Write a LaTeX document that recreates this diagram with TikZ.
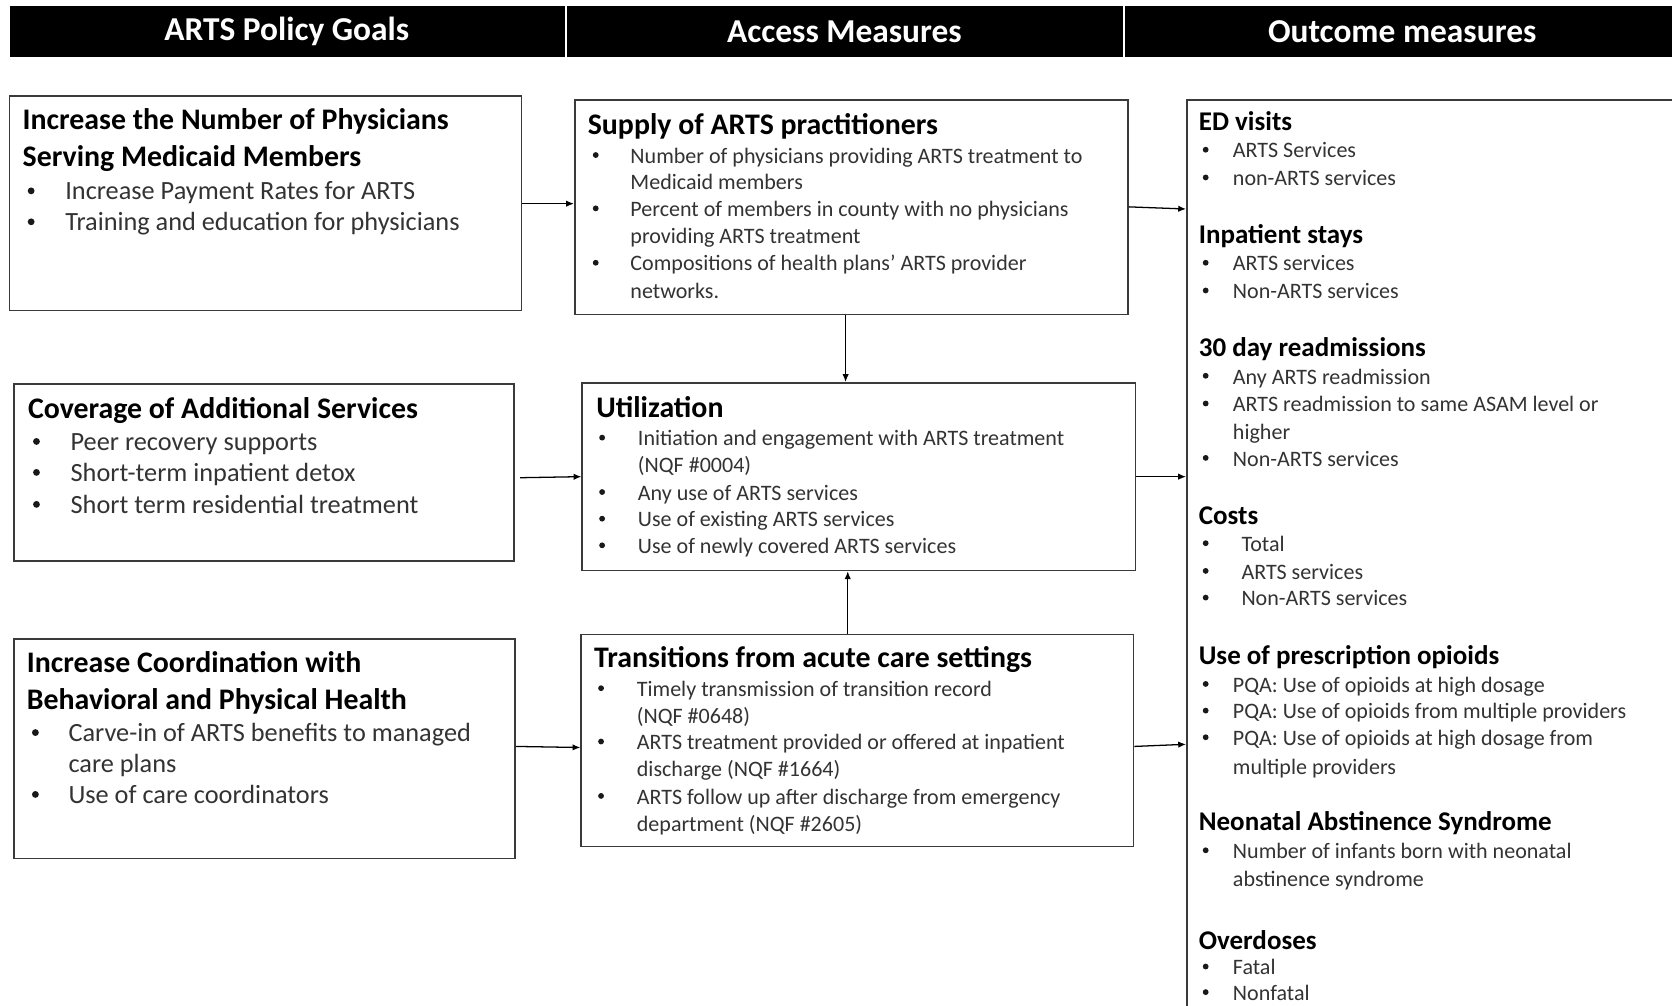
\documentclass[tikz,border=0pt]{standalone}
\usepackage{fontspec}
\setmainfont{Carlito}
\usetikzlibrary{arrows.meta,fit}
\definecolor{bodyc}{HTML}{333333}
\definecolor{boxc}{HTML}{3A3A3A}
\newcommand\tlines[6]{%
  \foreach \yy/\bb/\txt [count=\i] in {#6} {%
    \node[#2] (#1t\i) at (#5,\yy) {\txt};
    \ifnum\bb=1 \node[#3] (#1b\i) at (#4,\yy) {};\fi
  }}
\begin{document}
\begin{tikzpicture}[x=0.75pt,y=-0.75pt,
  hdr/.style={text=white,font=\fontsize{23.5}{28}\selectfont\bfseries,inner sep=0},
  boxn/.style={draw=boxc,line width=1.1pt,inner sep=0},
  arr/.style={draw=black,line width=0.9pt,-{Latex[length=5.5pt,width=4.5pt]}},
  ltitle/.style={font=\fontsize{21}{25}\selectfont\bfseries,anchor=base west,inner sep=0,yshift=-6.4pt},
  lbody/.style={font=\fontsize{18.5}{22}\selectfont,text=bodyc,anchor=base west,inner sep=0,yshift=-5.5pt},
  lbul/.style={circle,fill=black!90,inner sep=0,minimum size=4.8pt,xshift=2.4pt,yshift=0.75pt},
  mtitle/.style={font=\fontsize{21}{25}\selectfont\bfseries,anchor=base west,inner sep=0,yshift=-6.4pt},
  mbody/.style={font=\fontsize{15.5}{19}\selectfont,text=bodyc,anchor=base west,inner sep=0,yshift=-4.6pt},
  mbul/.style={circle,fill=black!90,inner sep=0,minimum size=4.1pt,xshift=2.0pt,yshift=1.2pt},
  rtitle/.style={font=\fontsize{19}{23}\selectfont\bfseries,anchor=base west,inner sep=0,yshift=-6pt},
]
\useasboundingbox (0,0) rectangle (1568,943);
\clip (0,0) rectangle (1568,943);
\fill[white] (0,0) rectangle (1568,943);
% headers
\fill[black] (9,6) rectangle (530,53);
\fill[black] (532,6) rectangle (1053,53);
\fill[black] (1055,6) rectangle (1580,53);
\node[hdr] (h1) at (269,29.5) {ARTS Policy Goals};
\node[hdr] (h2) at (792,29.5) {Access Measures};
\node[hdr] (h3) at (1315,29.5) {Outcome measures};
% boxes
\node[boxn,fit={(9,90)(489,291)}] (g1) {};
\node[boxn,fit={(13,360)(482,526)}] (g2) {};
\node[boxn,fit={(13,599)(483,805)}] (g3) {};
\node[boxn,fit={(539,94)(1058,295)}] (s) {};
\node[boxn,fit={(546,359)(1065,535)}] (u) {};
\node[boxn,fit={(545,595)(1063,794)}] (t) {};
\node[boxn,fit={(1113,94)(1600,990)}] (o) {};
% left texts
\node[ltitle] (g1a) at (21,113) {Increase the Number of Physicians};
\node[ltitle] (g1b) at (21,148) {Serving Medicaid Members};
\tlines{ga}{lbody}{lbul}{26}{61}{180/1/{Increase Payment Rates for ARTS},209/1/{Training and education for physicians}}
\node[ltitle] (g2a) at (26,384) {Coverage of Additional Services};
\tlines{gb}{lbody}{lbul}{31}{66}{415/1/{Peer recovery supports},444/1/{Short-term inpatient detox},474/1/{Short term residential treatment}}
\node[ltitle] (g3a) at (25,622) {Increase Coordination with};
\node[ltitle] (g3b) at (25,657) {Behavioral and Physical Health};
\tlines{gc}{lbody}{lbul}{30}{64}{688/1/{Carve-in of ARTS benefits to managed},717/0/{care plans},746/1/{Use of care coordinators}}
% middle texts
\node[mtitle] (s0) at (551,118) {Supply of ARTS practitioners};
\tlines{sa}{mbody}{mbul}{556}{591}{147/1/{Number of physicians providing ARTS treatment to},172/0/{Medicaid members},197/1/{Percent of members in county with no physicians},222/0/{providing ARTS treatment},248/1/{Compositions of health plans’ ARTS provider},274/0/{networks.}}
\node[mtitle] (u0) at (559,383) {Utilization};
\tlines{ua}{mbody}{mbul}{562}{598}{412/1/{Initiation and engagement with ARTS treatment},437/0/{(NQF \#0004)},463/1/{Any use of ARTS services},488/1/{Use of existing ARTS services},513/1/{Use of newly covered ARTS services}}
\node[mtitle] (t0) at (557,617) {Transitions from acute care settings};
\tlines{ta}{mbody}{mbul}{561}{597}{647/1/{Timely transmission of transition record},672/0/{(NQF \#0648)},697/1/{ARTS treatment provided or offered at inpatient},722/0/{discharge (NQF \#1664)},748/1/{ARTS follow up after discharge from emergency},774/0/{department (NQF \#2605)}}
% right texts
\node[rtitle] (o1) at (1124,114) {ED visits};
\tlines{oa}{mbody}{mbul}{1128}{1156}{142/1/{ARTS Services},168/1/{non-ARTS services}}
\node[rtitle] (o2) at (1124,220) {Inpatient stays};
\tlines{ob}{mbody}{mbul}{1128}{1156}{248/1/{ARTS services},274/1/{Non-ARTS services}}
\node[rtitle] (o3) at (1124,326) {30 day readmissions};
\tlines{oc}{mbody}{mbul}{1128}{1156}{354/1/{Any ARTS readmission},380/1/{ARTS readmission to same ASAM level or},406/0/{higher},431/1/{Non-ARTS services}}
\node[rtitle] (o4) at (1124,484) {Costs};
\tlines{od}{mbody}{mbul}{1128}{1164}{511/1/{Total},537/1/{ARTS services},562/1/{Non-ARTS services}}
\node[rtitle] (o5) at (1124,615) {Use of prescription opioids};
\tlines{oe}{mbody}{mbul}{1128}{1156}{643/1/{PQA: Use of opioids at high dosage},668/1/{PQA: Use of opioids from multiple providers},693/1/{PQA: Use of opioids at high dosage from},720/0/{multiple providers}}
\node[rtitle] (o6) at (1124,771) {Neonatal Abstinence Syndrome};
\tlines{of}{mbody}{mbul}{1128}{1156}{799/1/{Number of infants born with neonatal},825/0/{abstinence syndrome}}
\node[rtitle] (o7) at (1124,882) {Overdoses};
\tlines{og}{mbody}{mbul}{1128}{1156}{908/1/{Fatal},932/1/{Nonfatal}}
% connectors
\draw[arr] (g1.east |- 0,191) -- (s.west |- 0,191);
\draw[arr] (s.east |- 0,194) -- (o.west |- 0,196);
\draw[arr] (s.south -| 793,0) -- (u.north -| 793,0);
\draw[arr] ([xshift=3.75pt]g2.east |- 0,448) -- (u.west |- 0,447);
\draw[arr] (u.east |- 0,447) -- (o.west |- 0,447);
\draw[arr] (t.north -| 795,0) -- (u.south -| 795,0);
\draw[arr] (g3.east |- 0,700) -- (t.west |- 0,701);
\draw[arr] (t.east |- 0,700) -- (o.west |- 0,698);
\end{tikzpicture}
\end{document}
